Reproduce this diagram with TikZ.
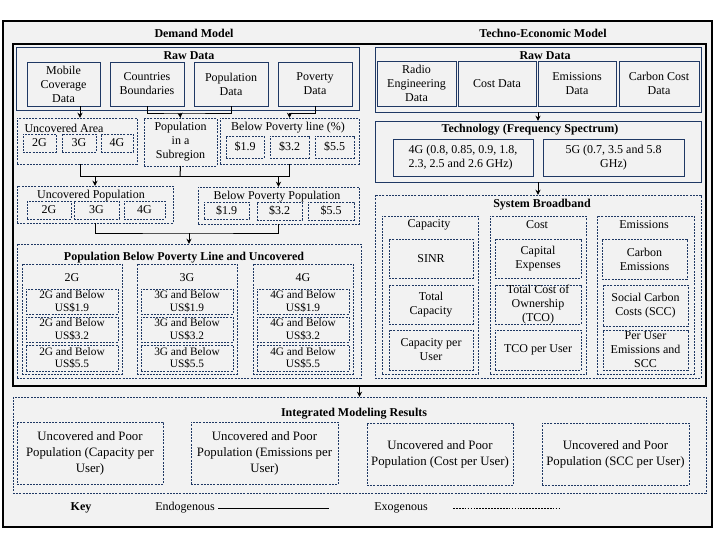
\documentclass[tikz,border=0pt]{standalone}
\usepackage{fontspec}
\setmainfont{Liberation Serif}
\usetikzlibrary{arrows.meta,calc}
\definecolor{navy}{RGB}{31,56,100}
\definecolor{bgray}{RGB}{242,242,242}
\newcommand{\fsnorm}{\fontsize{9}{10.5}\selectfont}
\newcommand{\fssmall}{\fontsize{8.5}{9.3}\selectfont}
\newcommand{\fsres}{\fontsize{9.6}{12}\selectfont}
\newcommand{\mkbox}[7]{\node[#6, minimum width={((#4)-(#2))*0.75pt}, minimum height={((#5)-(#3))*0.75pt}] (#1) at ({((#2)+(#4))/2},{((#3)+(#5))/2}) {#7};}
\tikzset{
  base/.style={inner sep=0pt, outer sep=0pt, align=center, font=\fsnorm},
  nsolid/.style={base, draw=navy, line width=0.75pt},
  ndash/.style={base, draw=navy, line width=0.65pt, dash pattern=on 1.5pt off 0.9pt},
  frame/.style={base, draw=black, line width=0.9pt},
  ttl/.style={inner sep=0pt, font=\bfseries\fsnorm},
  lbl/.style={inner sep=0pt, font=\fsnorm},
  conn/.style={draw=black, line width=0.75pt},
  arr/.style={conn, -{Stealth[length=4pt,width=3.8pt]}},
}
\begin{document}
\begin{tikzpicture}[x=0.75pt,y=-0.75pt]
\useasboundingbox (0,0) rectangle (720,540);
% frames
\mkbox{outer}{3}{21}{712}{527}{frame, fill=bgray}{}
\mkbox{big}{13}{44}{706}{386}{frame}{}
\node[ttl] (tdm) at (194,33) {Demand Model};
\node[ttl] (ttem) at (543,33) {Techno-Economic Model};
% ---------- Demand: raw data
\mkbox{rawd}{16}{47}{359}{110}{nsolid}{}
\node[ttl] (rawdt) at (189,56) {Raw Data};
\mkbox{mob}{27}{62}{100}{106}{nsolid}{Mobile\\Coverage\\Data}
\mkbox{cb}{110}{62}{184}{106}{nsolid}{Countries\\Boundaries}
\mkbox{pd}{194}{62}{268}{106}{nsolid}{Population\\Data}
\mkbox{pov}{278}{62}{352}{106}{nsolid}{Poverty\\Data}
% row 2
\mkbox{uarea}{17}{118}{137}{164}{ndash}{}
\node[lbl] (uareat) at (64,128) {Uncovered Area};
\mkbox{ua2}{23}{134}{56}{152}{ndash}{2G}
\mkbox{ua3}{62}{134}{96}{152}{ndash}{3G}
\mkbox{ua4}{101}{134}{133}{152}{ndash}{4G}
\mkbox{psub}{144}{118}{217}{166}{ndash}{Population\\in a\\Subregion}
\mkbox{bpl}{220}{118}{359}{164}{ndash}{}
\node[lbl] (bplt) at (288,128) {Below Poverty line (\%)};
\mkbox{bp1}{226}{136}{264}{158}{ndash}{\$1.9}
\mkbox{bp2}{270}{136}{309}{158}{ndash}{\$3.2}
\mkbox{bp3}{315}{136}{354}{158}{ndash}{\$5.5}
% row 3
\mkbox{upop}{17}{186}{173}{223}{ndash}{}
\node[lbl] (upopt) at (91,196) {Uncovered Population};
\mkbox{up2}{27}{201}{71}{219}{ndash}{2G}
\mkbox{up3}{74}{201}{119}{219}{ndash}{3G}
\mkbox{up4}{124}{201}{165}{219}{ndash}{4G}
\mkbox{bpp}{198}{187}{359}{224}{ndash}{}
\node[lbl] (bppt) at (277,197) {Below Poverty Population};
\mkbox{bq1}{204}{202}{249}{219}{ndash}{\$1.9}
\mkbox{bq2}{257}{202}{302}{220}{ndash}{\$3.2}
\mkbox{bq3}{308}{202}{354}{220}{ndash}{\$5.5}
% row 4
\mkbox{pbu}{17}{244}{361}{378}{ndash}{}
\node[ttl] (pbut) at (184,258) {Population Below Poverty Line and Uncovered};
\foreach \g/\xa/\xb in {2/22/122, 3/137/237, 4/253/353} {
  \mkbox{col\g}{\xa}{264}{\xb}{374}{ndash}{}
  \node[lbl] (colt\g) at ({(\xa+\xb)/2},278) {\g G};
  \mkbox{sa\g}{\xa+4}{289}{\xb-4}{314}{ndash,font=\fssmall}{\g G and Below\\US\$1.9}
  \mkbox{sb\g}{\xa+4}{317}{\xb-4}{342}{ndash,font=\fssmall}{\g G and Below\\US\$3.2}
  \mkbox{sc\g}{\xa+4}{345}{\xb-4}{371}{ndash,font=\fssmall}{\g G and Below\\US\$5.5}
}
% ---------- Techno-economic
\mkbox{rawt}{375}{47}{701}{112}{nsolid}{}
\node[ttl] (rawtt) at (545,56) {Raw Data};
\mkbox{rad}{377}{61}{456}{106}{nsolid}{Radio\\Engineering\\Data}
\mkbox{cd}{458}{61}{536}{106}{nsolid}{Cost Data}
\mkbox{ed}{538}{61}{616}{106}{nsolid}{Emissions\\Data}
\mkbox{ccd}{619}{61}{699}{106}{nsolid}{Carbon Cost\\Data}
\mkbox{tech}{375}{121}{701}{182}{nsolid}{}
\node[ttl] (techt) at (530,130) {Technology (Frequency Spectrum)};
\mkbox{g4}{393}{139}{533}{176}{nsolid,align=left}{4G (0.8, 0.85, 0.9, 1.8,\\2.3, 2.5 and 2.6 GHz)}
\mkbox{g5}{543}{139}{684}{176}{nsolid}{5G (0.7, 3.5 and 5.8\\GHz)}
\mkbox{sysb}{375}{195}{701}{378}{ndash}{}
\node[ttl] (sysbt) at (542,205) {System Broadband};
\mkbox{capc}{382}{216}{478}{374}{ndash}{}
\node[lbl] (capt) at (429,225) {Capacity};
\mkbox{sinr}{389}{239}{473}{278}{ndash}{SINR}
\mkbox{tcap}{389}{285}{473}{324}{ndash}{Total\\Capacity}
\mkbox{cpu}{389}{330}{473}{370}{ndash}{Capacity per\\User}
\mkbox{costc}{490}{216}{586}{374}{ndash}{}
\node[lbl] (costt) at (537,225) {Cost};
\mkbox{capex}{495}{239}{581}{278}{ndash}{Capital\\Expenses}
\mkbox{tco}{495}{285}{581}{324}{ndash}{Total Cost of\\Ownership\\(TCO)}
\mkbox{tcopu}{495}{330}{581}{370}{ndash}{TCO per User}
\mkbox{emc}{597}{216}{694}{374}{ndash}{}
\node[lbl] (emt) at (644,225) {Emissions};
\mkbox{cem}{602}{239}{687}{279}{ndash}{Carbon\\Emissions}
\mkbox{scc}{603}{285}{688}{326}{ndash}{Social Carbon\\Costs (SCC)}
\mkbox{pue}{603}{330}{688}{370}{ndash}{Per User\\Emissions and\\SCC}
% ---------- Integrated results
\mkbox{imr}{13}{397}{706}{493}{ndash}{}
\node[ttl] (imrt) at (354,414) {Integrated Modeling Results};
\mkbox{r1}{17}{422}{163}{484}{ndash,font=\fsres}{Uncovered and Poor\\Population (Capacity per\\User)}
\mkbox{r2}{191}{422}{338}{484}{ndash,font=\fsres}{Uncovered and Poor\\Population (Emissions per\\User)}
\mkbox{r3}{367}{423}{513}{485}{ndash,font=\fsres}{Uncovered and Poor\\Population (Cost per User)}
\mkbox{r4}{542}{423}{689}{485}{ndash,font=\fsres}{Uncovered and Poor\\Population (SCC per User)}
% ---------- Key
\node[ttl] (key) at (81,508) {Key};
\node[lbl] (endo) at (185,508) {Endogenous};
\coordinate (el2) at (329,508);
\draw[conn] ([xshift=2.5pt]endo.east) -- (el2);
\node[lbl] (exo) at (401,508) {Exogenous};
\coordinate (xl1) at (453,508);
\coordinate (xl2) at (560,508);
\draw[conn, line width=0.6pt, dash pattern=on 1.3pt off 0.9pt] (xl1) -- (xl2);
% ---------- connectors
\coordinate (a0) at (80,0);
\coordinate (j1) at (180,113);
\coordinate (j2) at (180,176);
\coordinate (j3) at (189,233);
\draw[arr] (mob.south -| a0) -- (uarea.north -| a0);
\draw[conn] (cb.south) |- (j1) -| (pd.south);
\draw[arr] (j1) -- (psub.north);
\draw[arr] (pov.south) |- ($(bpl.north)+(0,-5)$) -- (bpl.north);
\draw[conn] (uarea.south -| a0) |- (j2);
\draw[conn] (psub.south) -- (j2);
\draw[conn] (bpl.south) |- (j2);
\draw[arr] (upop.north |- j2) -- (upop.north);
\draw[arr] (bpp.north |- j2) -- (bpp.north);
\draw[conn] (upop.south) |- (j3) -| (bpp.south);
\draw[arr] (j3) -- (pbu.north);
\draw[arr] (rawt.south) -- (tech.north);
\draw[arr] (tech.south) -- (sysb.north);
\draw[arr] (big.south) -- (imr.north);
\end{tikzpicture}
\end{document}
